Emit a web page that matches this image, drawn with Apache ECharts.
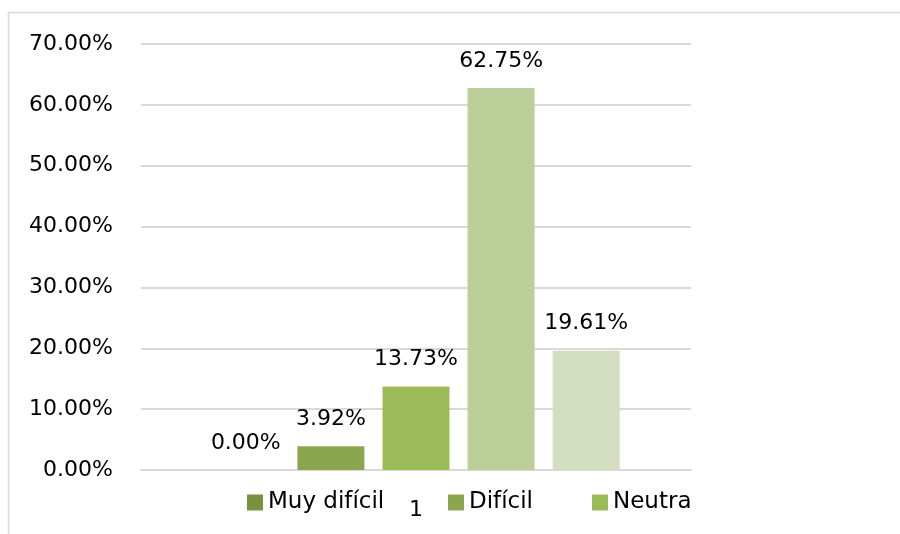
<!DOCTYPE html>
<html><head><meta charset="utf-8">
<script src="https://cdn.jsdelivr.net/npm/echarts@6/dist/echarts.min.js"></script>
<style>html,body{margin:0;padding:0;background:#fff}#c{width:900px;height:534px}</style>
</head><body><div id="c"></div>
<script>
const categories = ['1'];
const seriesNames = ['Muy difícil', 'Difícil', 'Neutra', 'Fácil', 'Muy fácil'];
const seriesValues = [0.00, 3.92, 13.73, 62.75, 19.61];
const seriesColors = ['#76923C', '#8AA64E', '#9BBB59', '#BBCF98', '#D2DEBF'];
const legendShown = ['Muy difícil', 'Difícil', 'Neutra'];
const legendLeft = [242, 443, 587];
const yTicks = [0, 10, 20, 30, 40, 50, 60, 70];

const FONT = 'DejaVu Sans';
const chart = echarts.init(document.getElementById('c'));
chart.setOption({
  animation: false,
  textStyle: { fontFamily: FONT },
  graphic: [{ type: 'rect', shape: { x: 8.5, y: 12.5, width: 920, height: 540 }, style: { fill: 'none', stroke: '#d9d9d9', lineWidth: 1.5 }, silent: true }],
  grid: { left: 141, right: 209, top: 44, bottom: 64, containLabel: false },
  legend: legendShown.map((n, i) => ({
    data: [n], left: legendLeft[i], top: 486, itemWidth: 16, itemHeight: 16, icon: 'rect', itemGap: 8,
    textStyle: { fontFamily: FONT, fontSize: 23, color: '#000' }, selectedMode: false
  })),
  xAxis: {
    type: 'category', data: categories,
    axisLine: { lineStyle: { color: '#d9d9d9', width: 2 } }, axisTick: { show: false },
    axisLabel: { fontSize: 22, color: '#000', margin: 29, fontFamily: FONT }
  },
  yAxis: {
    type: 'value', min: yTicks[0], max: yTicks[yTicks.length - 1], interval: 10,
    axisLine: { show: false }, axisTick: { show: false },
    splitLine: { lineStyle: { color: '#d9d9d9', width: 2 } },
    axisLabel: { fontSize: 22, color: '#000', margin: 28, fontFamily: FONT, formatter: v => v.toFixed(2) + '%' }
  },
  series: seriesNames.map((n, i) => ({
    name: n, type: 'bar', data: [seriesValues[i]], barWidth: 67, barGap: '27%',
    itemStyle: { color: seriesColors[i] },
    label: { show: true, position: 'top', distance: 16, fontSize: 22, color: '#000', fontFamily: FONT, formatter: p => p.value.toFixed(2) + '%' }
  }))
});
</script></body></html>
